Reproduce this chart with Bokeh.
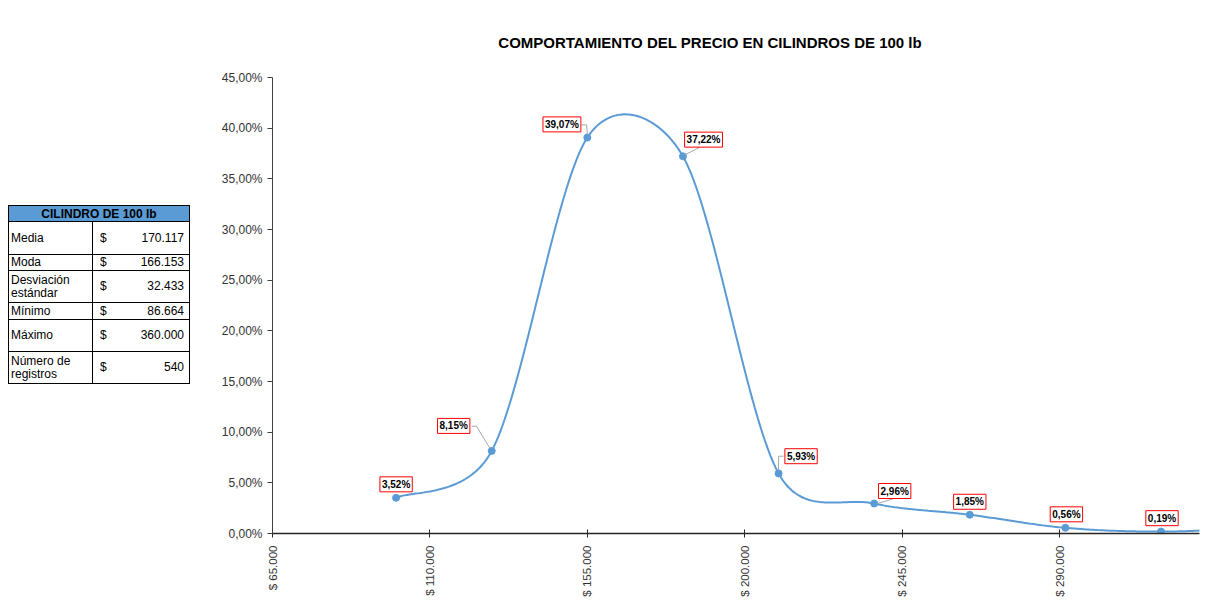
import math
from bokeh.plotting import figure
from bokeh.models import (Div, Label, FixedTicker, CustomJSTickFormatter, Range1d)
from bokeh.layouts import column, row
from bokeh.embed import file_html
from bokeh.resources import INLINE

# ---------------- data ----------------
TITLE = "COMPORTAMIENTO DEL PRECIO EN CILINDROS DE 100 lb"
BIN_MID = [100331, 127664, 154998, 182332, 209665, 236999, 264333, 291666, 319000, 346333]
FREQ_PCT = [3.52, 8.15, 39.07, 37.22, 5.93, 2.96, 1.85, 0.56, 0.19, 0.56]
X_TICKS = [65000, 110000, 155000, 200000, 245000, 290000]
Y_TICKS = [0, 5, 10, 15, 20, 25, 30, 35, 40, 45]

TABLE_TITLE = "CILINDRO DE 100 lb"
STAT_NAMES = ["Media", "Moda", "Desviación estándar", "Mínimo", "Máximo", "Número de registros"]
STAT_VALUES = ["170.117", "166.153", "32.433", "86.664", "360.000", "540"]

# ---------------- geometry / style ----------------
X0, X1 = 65000, 330000
Y0, Y1 = 0, 45
FW, FH = 927, 456
BLUE = "#5B9BD5"
FONT = "Liberation Sans"

# label offsets (screen px, y down) relative to each point; leader polylines
LABEL_OFF = [(0, -13.5), (-38, -25), (-25.4, -13.2), (20.6, -16.7), (22.5, -17.2),
             (20.5, -12.5), (0, -13), (1, -13.5), (1, -13.4)]
LEADERS = [None,
           [(-20, -24.7), (-15.3, -24.7), (-2, -3)],
           [(-5.7, -12.7), (-0.7, -12.7), (0, -3)],
           [(19.6, -10.5), (2, -1.5)],
           [(5, -17.2), (0, -17.2), (0, -3)],
           [(20, -5), (3.4, 0)],
           None, None, None]

SX = (X1 - X0) / FW
SY = (Y1 - Y0) / FH


def to_px(x, y):
    return (x - X0) / SX, (y - Y0) / SY


def to_data(px, py):
    return px * SX + X0, py * SY + Y0


def excel_smooth(xs, ys, n=60):
    pts = [to_px(x, y) for x, y in zip(xs, ys)]
    N = len(pts)
    ox, oy = [], []
    for i in range(N - 1):
        p0 = pts[i - 1] if i > 0 else pts[i]
        p1 = pts[i]
        p2 = pts[i + 1]
        p3 = pts[i + 2] if i + 2 < N else pts[i + 1]
        d12 = math.hypot(p2[0] - p1[0], p2[1] - p1[1])
        t1 = (p2[0] - p0[0], p2[1] - p0[1])
        l1 = math.hypot(*t1)
        s1 = 1 / 6 if l1 / 6 <= d12 / 2 else (d12 / 2) / l1
        t2 = (p3[0] - p1[0], p3[1] - p1[1])
        l2 = math.hypot(*t2)
        s2 = 1 / 6 if l2 / 6 <= d12 / 2 else (d12 / 2) / l2
        c1 = (p1[0] + t1[0] * s1, p1[1] + t1[1] * s1)
        c2 = (p2[0] - t2[0] * s2, p2[1] - t2[1] * s2)
        for k in range(n + 1):
            if i > 0 and k == 0:
                continue
            t = k / n
            a, b, c, d = (1 - t) ** 3, 3 * t * (1 - t) ** 2, 3 * t * t * (1 - t), t ** 3
            px = a * p1[0] + b * c1[0] + c * c2[0] + d * p2[0]
            py = a * p1[1] + b * c1[1] + c * c2[1] + d * p2[1]
            dx, dy = to_data(px, py)
            ox.append(dx)
            oy.append(dy)
    return ox, oy


p = figure(frame_width=FW, frame_height=FH, output_backend="svg", toolbar_location=None,
           x_range=Range1d(X0, X1), y_range=Range1d(Y0, Y1),
           min_border_left=64, min_border_right=10, min_border_top=9, min_border_bottom=75,
           outline_line_color=None, background_fill_color="white", border_fill_color="white")
p.margin = 0
p.xgrid.visible = False
p.ygrid.visible = False

sx, sy = excel_smooth(BIN_MID, FREQ_PCT)
p.line(sx, sy, line_color=BLUE, line_width=2)
p.scatter(BIN_MID, FREQ_PCT, size=7, fill_color=BLUE, line_color=BLUE)

# leaders
lx, ly = [], []
for i, leader in enumerate(LEADERS):
    if not leader:
        continue
    xs_, ys_ = [], []
    for dx, dy in leader:
        xs_.append(BIN_MID[i] + dx * SX)
        ys_.append(FREQ_PCT[i] - dy * SY)
    lx.append(xs_)
    ly.append(ys_)
p.multi_line(lx, ly, line_color="#A6A6A6", line_width=1)

for i, (dx, dy) in enumerate(LABEL_OFF):
    txt = f"{FREQ_PCT[i]:.2f}".replace(".", ",") + "%"
    p.add_layout(Label(x=BIN_MID[i], y=FREQ_PCT[i], x_offset=dx, y_offset=-dy, text=txt,
                       anchor="center", text_align="center", text_baseline="middle",
                       text_font=FONT, text_font_size="10px", text_font_style="bold",
                       text_color="#000000", background_fill_color="white",
                       border_line_color="#FF0000", border_line_width=1, padding=2))

# axes
p.yaxis.ticker = FixedTicker(ticks=Y_TICKS)
p.yaxis.formatter = CustomJSTickFormatter(code="return tick.toFixed(2).replace('.', ',') + '%';")
p.yaxis.major_tick_out = 5
p.yaxis.major_tick_in = 0
p.yaxis.minor_tick_line_color = None
p.yaxis.axis_line_color = "#404040"
p.yaxis.major_tick_line_color = "#404040"
p.yaxis.major_label_text_font = FONT
p.yaxis.major_label_text_font_size = "12px"
p.yaxis.major_label_text_color = "#333333"
p.yaxis.major_label_standoff = 5

p.xaxis.ticker = FixedTicker(ticks=X_TICKS)
p.xaxis.formatter = CustomJSTickFormatter(
    code="return '$ ' + Math.round(tick).toString().replace(/\\B(?=(\\d{3})+(?!\\d))/g, '.');")
p.xaxis.major_label_orientation = math.pi / 2
p.xaxis.major_tick_out = 4
p.xaxis.major_tick_in = 4
p.xaxis.minor_tick_line_color = None
p.xaxis.axis_line_color = "#262626"
p.xaxis.axis_line_width = 1.5
p.xaxis.major_tick_line_color = "#262626"
p.xaxis.major_label_text_font = FONT
p.xaxis.major_label_text_font_size = "11.5px"
p.xaxis.major_label_text_color = "#333333"
p.xaxis.major_label_standoff = 8

# title div
title_div = Div(text=(f"<div style=\"margin-left:264px;width:876px;text-align:center;"
                      f"font-family:'{FONT}',Arial,sans-serif;font-weight:bold;font-size:15px;"
                      f"line-height:17px;padding-top:26px;color:#000;\">{TITLE}</div>"),
                width=1214, height=60, margin=0)

# table div
cell = "border-top:1px solid #000;border-bottom:1px solid #000;padding:0;vertical-align:middle;"
row_h = [33, 16, 32, 17, 32, 32]
rows_html = ""
for name, val, h in zip(STAT_NAMES, STAT_VALUES, row_h):
    rows_html += (f"<tr style='height:{h}px'>"
                  f"<td style='{cell}border-left:1px solid #000;border-right:1px solid #000;padding-left:2px;line-height:13px'>{name}</td>"
                  f"<td style='{cell}padding-left:7px;line-height:13px'>$</td>"
                  f"<td style='{cell}border-right:1px solid #000;text-align:right;padding-right:5px;line-height:13px'>{val}</td></tr>")
table_html = (f"<table style=\"border-collapse:collapse;margin-top:137px;table-layout:fixed;width:181px;"
              f"font-family:'{FONT}',Arial,sans-serif;font-size:12px;color:#000;\">"
              f"<colgroup><col style='width:84px'><col style='width:22px'><col style='width:75px'></colgroup>"
              f"<tr style='height:16px'><th colspan='3' style='background:{BLUE};border:1px solid #000;"
              f"font-weight:bold;padding:0;text-align:center;line-height:14px'>{TABLE_TITLE}</th></tr>"
              f"{rows_html}</table>")
table_div = Div(text=table_html, width=200, height=540, margin=0)

layout = column(title_div, row(table_div, p, spacing=0), spacing=0, margin=(8, 0, 0, 8))
open("out.html", "w").write(file_html(layout, INLINE))
